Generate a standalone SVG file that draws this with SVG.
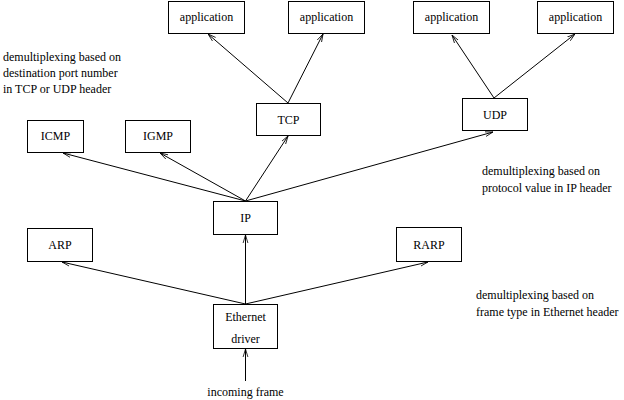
<svg xmlns="http://www.w3.org/2000/svg" width="624" height="400" viewBox="0 0 624 400">
<style>
  .box rect { fill: #fff; stroke: #000; stroke-width: 1; }
  text { font-family: "Liberation Serif", "Times New Roman", serif; font-size: 12px; fill: #000; }
  .c { text-anchor: middle; }
  .conn line { stroke: #000; stroke-width: 1; fill: none; marker-end: url(#arr); }
</style>
<defs>
  <marker id="arr" viewBox="0 0 10 10" refX="10" refY="5" markerWidth="8" markerHeight="8" markerUnits="userSpaceOnUse" orient="auto">
    <path d="M0,2 L10,5 L0,8" fill="none" stroke="#000" stroke-width="1"/>
  </marker>
</defs>
<rect width="624" height="400" fill="#fff"/>
<g class="conn">
  <line x1="245.5" y1="381" x2="245.5" y2="349"/>
  <line x1="245.5" y1="304" x2="245.5" y2="235"/>
  <line x1="245.5" y1="304" x2="62" y2="262"/>
  <line x1="245.5" y1="304" x2="428" y2="262"/>
  <line x1="245.5" y1="201" x2="63" y2="153"/>
  <line x1="245.5" y1="201" x2="160" y2="153"/>
  <line x1="245.5" y1="201" x2="288" y2="136"/>
  <line x1="245.5" y1="201" x2="493" y2="132"/>
  <line x1="288" y1="103" x2="208" y2="34"/>
  <line x1="288" y1="103" x2="323" y2="34"/>
  <line x1="494" y1="98" x2="452" y2="35"/>
  <line x1="494" y1="98" x2="575" y2="34"/>
</g>
<g id="app1" class="box"><rect x="168.5" y="1.5" width="76" height="32"/><text class="c" x="206.5" y="21">application</text></g>
<g id="app2" class="box"><rect x="288.5" y="1.5" width="76" height="32"/><text class="c" x="326.5" y="21">application</text></g>
<g id="app3" class="box"><rect x="413.5" y="1.5" width="76" height="32"/><text class="c" x="451.5" y="21">application</text></g>
<g id="app4" class="box"><rect x="537.5" y="1.5" width="76" height="32"/><text class="c" x="575.5" y="21">application</text></g>
<g id="tcp" class="box"><rect x="256.5" y="103.5" width="64" height="32"/><text class="c" x="288.5" y="124">TCP</text></g>
<g id="udp" class="box"><rect x="462.5" y="98.5" width="65" height="32"/><text class="c" x="495" y="119">UDP</text></g>
<g id="icmp" class="box"><rect x="27.5" y="120.5" width="56" height="32"/><text class="c" x="55.5" y="140">ICMP</text></g>
<g id="igmp" class="box"><rect x="125.5" y="120.5" width="65" height="32"/><text class="c" x="158" y="140">IGMP</text></g>
<g id="ip" class="box"><rect x="213.5" y="201.5" width="64" height="33"/><text class="c" x="245.5" y="222">IP</text></g>
<g id="arp" class="box"><rect x="27.5" y="228.5" width="65" height="33"/><text class="c" x="60" y="249">ARP</text></g>
<g id="rarp" class="box"><rect x="396.5" y="227.5" width="65" height="34"/><text class="c" x="429" y="249">RARP</text></g>
<g id="ethernet" class="box"><rect x="213.5" y="304.5" width="64" height="44"/><text class="c" x="245.5" y="321">Ethernet</text><text class="c" x="245.5" y="343">driver</text></g>
<g id="labels">
  <text class="c" x="245.5" y="396">incoming frame</text>
  <text x="3" y="61">demultiplexing based on</text>
  <text x="3" y="77">destination port number</text>
  <text x="3" y="93">in TCP or UDP header</text>
  <text x="482" y="175">demultiplexing based on</text>
  <text x="482" y="192">protocol value in IP header</text>
  <text x="476" y="299">demultiplexing based on</text>
  <text x="476" y="316">frame type in Ethernet header</text>
</g>
</svg>
